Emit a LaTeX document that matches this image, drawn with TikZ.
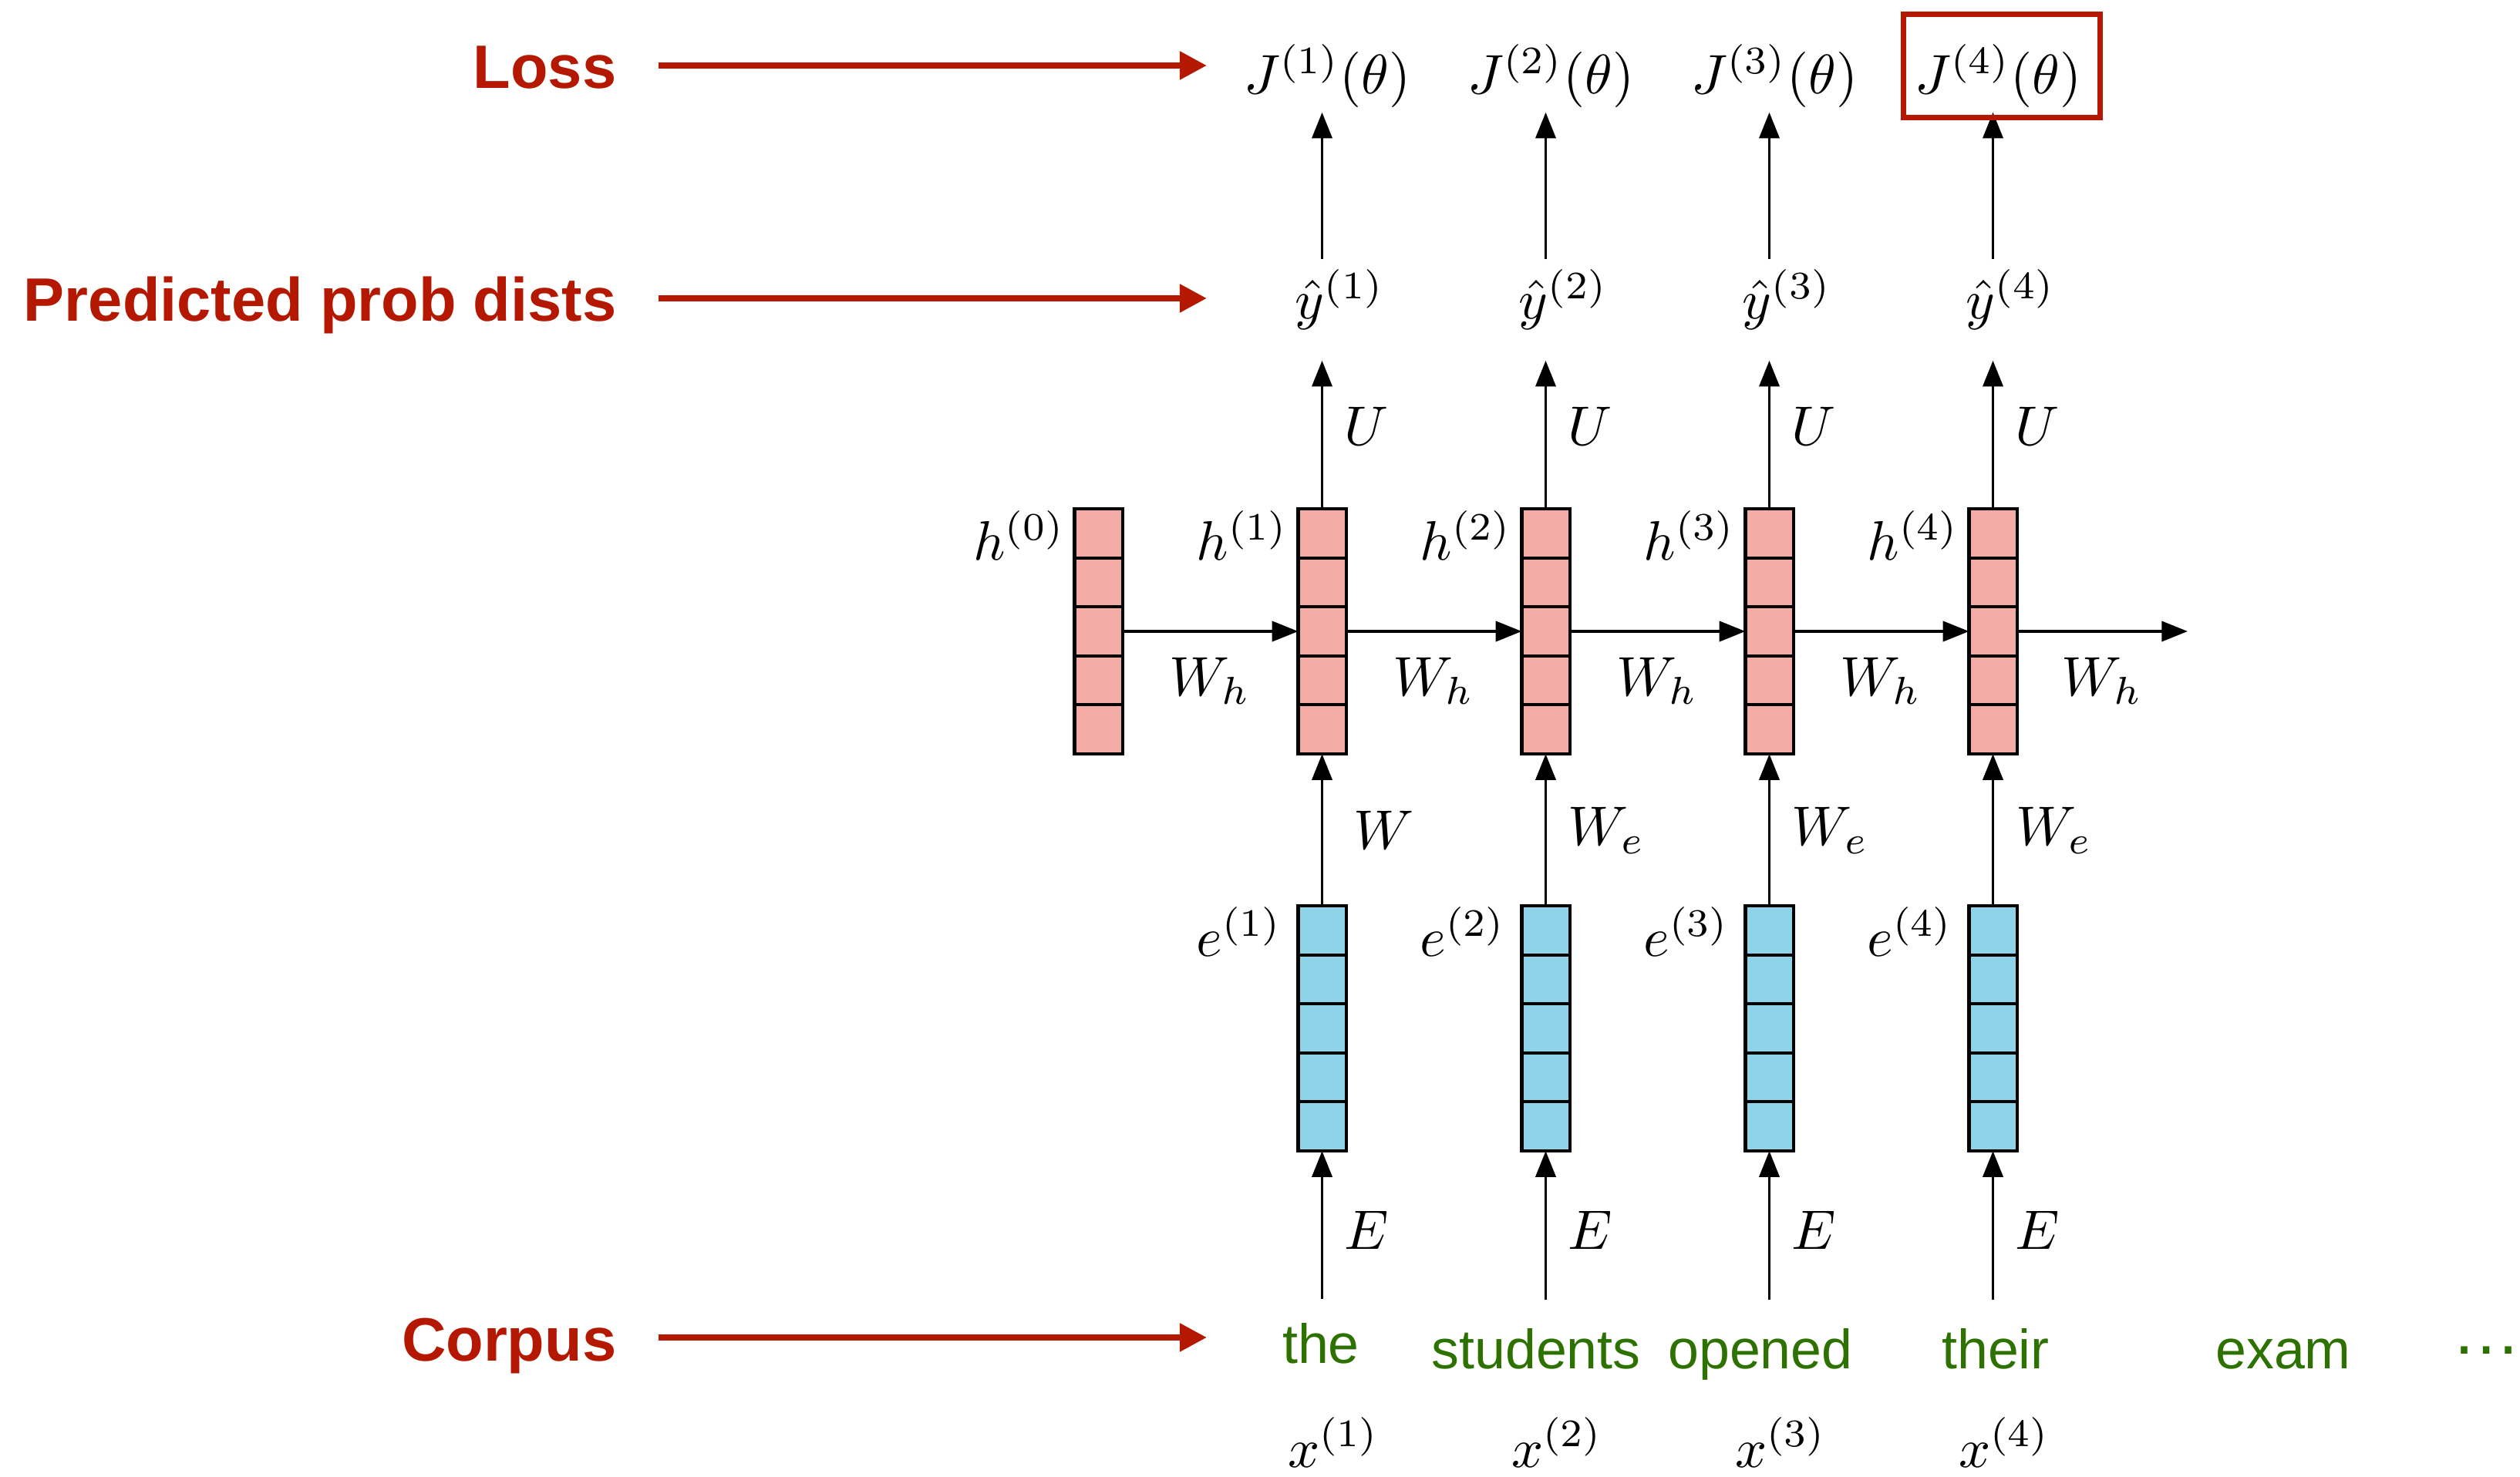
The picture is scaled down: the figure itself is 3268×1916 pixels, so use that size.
\documentclass[tikz,border=0pt]{standalone}
\usepackage{fontspec}
\usepackage{graphicx}
\newfontfamily\labelfont{Liberation Sans}
\usetikzlibrary{arrows.meta,calc}
\definecolor{lossred}{RGB}{180,24,0}
\definecolor{wordgreen}{RGB}{45,114,0}
\definecolor{hiddenfill}{RGB}{243,172,165}
\definecolor{embedfill}{RGB}{142,211,232}
% math set at 10pt and enlarged, so the 10pt design sizes are used
\newcommand\bigmath[1]{\scalebox{2.05}{$#1$}}
\begin{document}
\begin{tikzpicture}[x=0.01cm,y=-0.01cm,
  mth/.style={inner sep=0pt,font=\fontsize{10}{12}\selectfont},
  sidelabel/.style={inner sep=0pt,text=lossred,font=\labelfont\bfseries\fontsize{22.6}{26}\selectfont},
  word/.style={inner sep=0pt,text=wordgreen,font=\labelfont\fontsize{20.4}{24}\selectfont},
  vecbox/.style={draw,line width=1.15pt,minimum width=0.62cm,minimum height=3.18cm,inner sep=0pt,outer sep=0pt},
  hbox/.style={vecbox,fill=hiddenfill},
  ebox/.style={vecbox,fill=embedfill},
  arr/.style={-{Triangle[length=9.6pt,width=7.4pt]},line width=1.1pt},
  redarr/.style={-{Triangle[length=10pt,width=10pt]},line width=2.3pt,draw=lossred},
  lossbox/.style={draw=lossred,line width=2pt}]
\useasboundingbox (0,0) rectangle (3268,1916);

% initial hidden state
\node[hbox] (h0) at (1424.5,819) {};
\node[mth,anchor=base east] (hl0) at (1382,727) {\bigmath{h^{(0)}}};

% one column per time step
\foreach \i in {1,...,4}{
  \pgfmathsetmacro\cx{1714.5+290*(\i-1)}
  \node[hbox] (h\i) at (\cx,819) {};
  \node[ebox] (e\i) at (\cx,1334) {};
  \node[mth,anchor=base] (J\i) at (\cx+7,122) {\bigmath{J^{(\i)}(\theta)}};
  \node[mth,anchor=base] (yh\i) at (\cx+23,414) {\bigmath{\hat{y}^{(\i)}}};
  \node[mth,anchor=base east] (hl\i) at (\cx-43,727) {\bigmath{h^{(\i)}}};
  \node[mth,anchor=base east] (el\i) at (\cx-51,1241) {\bigmath{e^{(\i)}}};
  \node[mth,anchor=base] (U\i) at (\cx+57.5,578) {\bigmath{U}};
  \node[mth,anchor=base] (E\i) at (\cx+57.5,1620) {\bigmath{E}};
  \node[mth,anchor=base] (x\i) at (\cx+15,1903) {\bigmath{x^{(\i)}}};
  \draw[arr] (e\i.north) -- (h\i.south);
  \draw[arr,shorten >=0.39cm] (h\i.north) -- (h\i.north |- yh\i.south);
  \draw[arr,shorten <=0.13cm,shorten >=0.05cm] (h\i.north |- yh\i.north) -- (h\i.north |- J\i.south);
}
\node[mth] (W1) at (1794.5,1077) {\bigmath{W}};
\foreach \i in {2,3,4}{
  \pgfmathsetmacro\cx{1714.5+290*(\i-1)}
  \node[mth] (W\i) at (\cx+79,1077) {\bigmath{W_e}};
}

% cell dividers of the vectors
\foreach \n in {h0,h1,h2,h3,h4,e1,e2,e3,e4}{
  \foreach \k in {1,...,4}{
    \draw[line width=1.15pt] ($(\n.north west)!\k/5!(\n.south west)$) -- ($(\n.north east)!\k/5!(\n.south east)$);
  }
}

% recurrence
\coordinate (hnext) at (2837,819);
\foreach \a/\b/\m in {h0/h1/1,h1/h2/2,h2/h3/3,h3/h4/4}{
  \draw[arr] (\a.east) -- (\b.west);
  \node[mth] (Wh\m) at ($(\a.east)!0.5!(\b.west)+(0,64)$) {\bigmath{W_h}};
}
\draw[arr] (h4.east) -- (hnext);
\node[mth] (Wh5) at ($(h4.east)!0.5!(hnext)+(0,64)$) {\bigmath{W_h}};

% the loss being highlighted
\draw[lossbox] ([shift={(-123,-103.5)}]J4.base) rectangle ([shift={(132,30.5)}]J4.base);

% corpus words
\node[word,anchor=base] (w1) at (1713,1768) {the};
\node[word,anchor=base] (w2) at (1992,1775) {students};
\node[word,anchor=base] (w3) at (2283,1775) {opened};
\node[word,anchor=base] (w4) at (2588,1775) {their};
\node[word,anchor=base] (w5) at (2961,1775) {exam};
\node[word,anchor=base,font=\labelfont\fontsize{25.6}{28}\selectfont] (w6) at (3224,1757) {…};
\foreach \i/\s in {1/0.30cm,2/0.36cm,3/0.36cm,4/0.36cm}{
  \draw[arr,shorten <=\s] (e\i.south |- w\i.north) -- (e\i.south);
}

% side labels
\node[sidelabel,anchor=base east] (Lloss) at (800,115) {Loss};
\node[sidelabel,anchor=base east] (Lpred) at (800,417) {Predicted prob dists};
\node[sidelabel,anchor=base east] (Lcorp) at (800,1765) {Corpus};
\coordinate (lossTip) at (1565,85);
\coordinate (predTip) at (1565,387);
\coordinate (corpTip) at (1565,1735);
\draw[redarr,shorten <=0.54cm] (Lloss.east |- lossTip) -- (lossTip);
\draw[redarr,shorten <=0.54cm] (Lpred.east |- predTip) -- (predTip);
\draw[redarr,shorten <=0.54cm] (Lcorp.east |- corpTip) -- (corpTip);
\end{tikzpicture}
\end{document}
